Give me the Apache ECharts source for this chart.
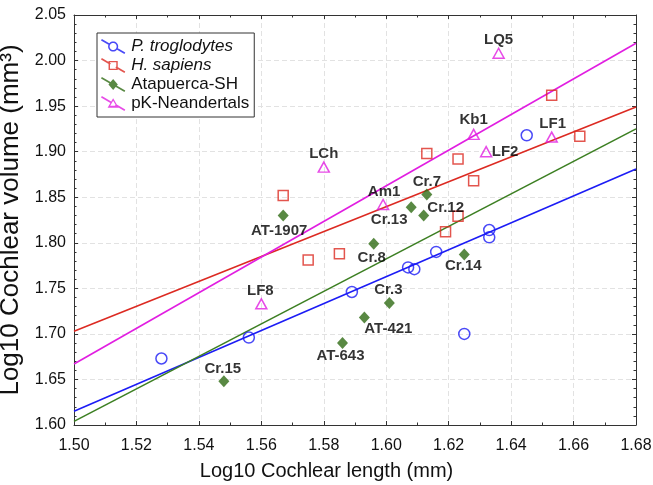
<!DOCTYPE html>
<html>
<head>
<meta charset="utf-8">
<script src="https://cdn.jsdelivr.net/npm/echarts@6/dist/echarts.min.js"></script>
<style>
  html, body { margin: 0; padding: 0; background: #fff; }
  #chart { width: 653px; height: 485px; }
</style>
</head>
<body>
<div id="chart"></div>
<script>
// Log10 cochlear length (x) against log10 cochlear volume (y), per group
const panX = [1.528, 1.556, 1.589, 1.607, 1.609, 1.616, 1.625, 1.633, 1.633, 1.645];
const panY = [1.673, 1.696, 1.746, 1.773, 1.771, 1.790, 1.700, 1.814, 1.806, 1.918];

const sapX = [1.567, 1.575, 1.585, 1.613, 1.619, 1.623, 1.623, 1.628, 1.653, 1.662];
const sapY = [1.852, 1.781, 1.788, 1.898, 1.812, 1.829, 1.892, 1.868, 1.962, 1.917];

const shNames = ['AT-1907', 'Cr.7', 'Cr.12', 'Cr.13', 'Cr.8', 'Cr.14', 'Cr.3', 'AT-421', 'AT-643', 'Cr.15'];
const shX = [1.567, 1.613, 1.612, 1.608, 1.596, 1.625, 1.601, 1.593, 1.586, 1.548];
const shY = [1.830, 1.853, 1.830, 1.839, 1.799, 1.787, 1.734, 1.718, 1.690, 1.648];

const neaNames = ['LQ5', 'Kb1', 'LF1', 'LF2', 'LCh', 'Am1', 'LF8'];
const neaX = [1.636, 1.628, 1.653, 1.632, 1.580, 1.599, 1.560];
const neaY = [2.008, 1.919, 1.916, 1.900, 1.883, 1.842, 1.733];

// Regression lines: fitted volume at both ends of the length range
const fitRange = [1.50, 1.68];
const panFit = [1.615, 1.881];
const sapFit = [1.703, 1.949];
const shFit = [1.604, 1.925];
const neaFit = [1.667, 2.019];

// Axis ranges and tick steps
const xRange = [1.50, 1.68];
const xStep = 0.02;
const yRange = [1.60, 2.05];
const yStep = 0.05;

const groupNames = ['P. troglodytes', 'H. sapiens', 'Atapuerca-SH', 'pK-Neandertals'];

// ---- styling ----
const FONT = 'Liberation Sans, Arial, Helvetica, sans-serif';
const COLORS = {
  pan: '#1c1cf5',
  sap: '#dc2a22',
  sh: '#2f6b14',
  shLine: '#3c7f22',
  nea: '#e11ee1'
};

// label placement (text centre relative to the marker centre, px)
const labelOffsets = {
  'LQ5': [0, -13], 'Kb1': [0, -14], 'LF1': [1, -13], 'LF2': [19, 0],
  'LCh': [0, -13], 'Am1': [1, -13], 'LF8': [-1, -13],
  'Cr.7': [0, -13], 'Cr.12': [22, -8], 'Cr.13': [-22, 13], 'Cr.8': [-2, 14],
  'Cr.14': [-1, 11], 'Cr.3': [-1, -13], 'AT-421': [24, 11], 'AT-643': [-2, 13],
  'AT-1907': [-4, 15], 'Cr.15': [-1, -12]
};

function points(xs, ys, names) {
  return xs.map((x, i) => {
    const item = { value: [x, ys[i]] };
    if (names) {
      item.name = names[i];
      item.label = { offset: labelOffsets[names[i]] || [0, -13] };
    }
    return item;
  });
}

function fitLine(ends) {
  return [[fitRange[0], ends[0]], [fitRange[1], ends[1]]];
}

// ---- legend icons: slanted line with the group's marker in the middle ----
const IW = 26, IH = 15;
function area(poly) {
  let s = 0;
  for (let i = 0; i < poly.length; i++) {
    const a = poly[i], b = poly[(i + 1) % poly.length];
    s += a[0] * b[1] - b[0] * a[1];
  }
  return s;
}
function orient(poly, sign) {
  return (area(poly) * sign < 0) ? poly.slice().reverse() : poly;
}
function toPath(poly) {
  return 'M' + poly.map(p => p[0].toFixed(3) + ' ' + p[1].toFixed(3)).join(' L') + ' Z ';
}
function circlePoly(cx, cy, r) {
  const out = [];
  for (let i = 0; i < 32; i++) {
    const a = i / 32 * Math.PI * 2;
    out.push([cx + r * Math.cos(a), cy + r * Math.sin(a)]);
  }
  return out;
}
function shapePoly(kind, cx, cy, r) {
  if (kind === 'circle') return circlePoly(cx, cy, r);
  if (kind === 'rect') return [[cx - r, cy - r], [cx + r, cy - r], [cx + r, cy + r], [cx - r, cy + r]];
  if (kind === 'triangle') return [[cx, cy - r * 1.05], [cx + r * 1.1, cy + r * 0.85], [cx - r * 1.1, cy + r * 0.85]];
  return [[cx, cy - r * 1.2], [cx + r, cy], [cx, cy + r * 1.2], [cx - r, cy]];
}
function legendIcon(kind, hollow, rOut, rIn) {
  const t = 0.95;
  const L = Math.hypot(IW, IH);
  const d = [IW / L, IH / L];
  const n = [-d[1] * t, d[0] * t];
  const c = [IW / 2, IH / 2];
  const seg = (p0, p1) => orient([
    [p0[0] + n[0], p0[1] + n[1]], [p1[0] + n[0], p1[1] + n[1]],
    [p1[0] - n[0], p1[1] - n[1]], [p0[0] - n[0], p0[1] - n[1]]
  ], 1);
  let path = '';
  if (hollow) {
    path += toPath(seg([0, 0], [c[0] - d[0] * rIn, c[1] - d[1] * rIn]));
    path += toPath(seg([c[0] + d[0] * rIn, c[1] + d[1] * rIn], [IW, IH]));
    path += toPath(orient(shapePoly(kind, c[0], c[1], rOut), 1));
    path += toPath(orient(shapePoly(kind, c[0], c[1], rIn), -1));
  } else {
    path += toPath(seg([0, 0], [IW, IH]));
    path += toPath(orient(shapePoly(kind, c[0], c[1], rOut), 1));
  }
  return 'path://' + path;
}

const labelStyle = {
  show: true,
  position: 'inside',
  formatter: '{b}',
  color: '#000',
  fontFamily: FONT,
  fontWeight: 'bold',
  fontSize: 15
};

function valueAxisBase(range, step, minorSplit) {
  return {
    type: 'value',
    min: range[0],
    max: range[1],
    interval: step,
    axisLine: { show: true, onZero: false, lineStyle: { color: '#333', width: 1 } },
    axisTick: { show: true, inside: true, length: 4, lineStyle: { color: '#333', width: 1 } },
    minorTick: { show: true, splitNumber: minorSplit, length: 2.5, lineStyle: { color: '#333', width: 1 } },
    splitLine: { show: false },
    minorSplitLine: { show: false }
  };
}

const chart = echarts.init(document.getElementById('chart'), null, { renderer: 'canvas' });

const option = {
  animation: false,
  backgroundColor: '#fff',
  textStyle: { fontFamily: FONT },
  grid: { left: 74, right: 17, top: 15, bottom: 60, containLabel: false, outerBoundsMode: 'none' },
  legend: {
    orient: 'vertical',
    left: 97,
    top: 33,
    padding: [5, 5, 5, 4],
    itemWidth: IW,
    itemHeight: IH,
    itemGap: 2,
    borderColor: '#333',
    borderWidth: 1,
    backgroundColor: '#fff',
    selectedMode: false,
    textStyle: { fontFamily: FONT, fontSize: 17, color: '#111' },
    data: [
      { name: groupNames[0], icon: legendIcon('circle', true, 5.6, 3.9),
        itemStyle: { color: COLORS.pan, borderWidth: 0 }, textStyle: { fontStyle: 'italic' } },
      { name: groupNames[1], icon: legendIcon('rect', true, 5.1, 3.5),
        itemStyle: { color: COLORS.sap, borderWidth: 0 }, textStyle: { fontStyle: 'italic' } },
      { name: groupNames[2], icon: legendIcon('diamond', false, 5.2, 0),
        itemStyle: { color: COLORS.sh, borderWidth: 0 } },
      { name: groupNames[3], icon: legendIcon('triangle', true, 5.6, 3.0),
        itemStyle: { color: COLORS.nea, borderWidth: 0 } }
    ]
  },
  xAxis: [
    Object.assign(valueAxisBase(xRange, xStep, 2), {
      position: 'bottom',
      axisLabel: {
        margin: 13, fontSize: 16, color: '#111', fontFamily: FONT,
        showMinLabel: true, showMaxLabel: true,
        formatter: v => v.toFixed(2)
      },
      splitLine: { show: true, lineStyle: { color: '#e2e2e2', width: 1, type: [5, 3] } },
      name: 'Log10 Cochlear length (mm)',
      nameLocation: 'middle',
      nameGap: 36,
      nameTextStyle: { fontSize: 20, color: '#111', fontFamily: FONT, padding: [0, 57, 0, 0] }
    }),
    Object.assign(valueAxisBase(xRange, xStep, 2), {
      position: 'top',
      axisLabel: { show: false }
    })
  ],
  yAxis: [
    Object.assign(valueAxisBase(yRange, yStep, 5), {
      position: 'left',
      axisLabel: {
        margin: 8, fontSize: 16, color: '#111', fontFamily: FONT,
        showMinLabel: true, showMaxLabel: true,
        formatter: v => v.toFixed(2)
      },
      splitLine: { show: true, lineStyle: { color: '#e2e2e2', width: 1, type: [5, 3] } },
      name: 'Log10 Cochlear volume (mm³)',
      nameLocation: 'middle',
      nameGap: 38,
      nameTextStyle: { fontSize: 26, color: '#111', fontFamily: FONT }
    }),
    Object.assign(valueAxisBase(yRange, yStep, 5), {
      position: 'right',
      axisLabel: { show: false }
    })
  ],
  series: [
    { type: 'line', name: 'P. troglodytes fit', data: fitLine(panFit), symbol: 'none', silent: true,
      lineStyle: { color: COLORS.pan, width: 1.6 }, z: 2 },
    { type: 'line', name: 'H. sapiens fit', data: fitLine(sapFit), symbol: 'none', silent: true,
      lineStyle: { color: COLORS.sap, width: 1.6 }, z: 2 },
    { type: 'line', name: 'Atapuerca-SH fit', data: fitLine(shFit), symbol: 'none', silent: true,
      lineStyle: { color: COLORS.shLine, width: 1.6 }, z: 2 },
    { type: 'line', name: 'pK-Neandertals fit', data: fitLine(neaFit), symbol: 'none', silent: true,
      lineStyle: { color: COLORS.nea, width: 1.6 }, z: 2 },

    { type: 'scatter', name: groupNames[0], data: points(panX, panY), symbol: 'circle', symbolSize: 11,
      itemStyle: { color: 'rgba(255,255,255,0)', borderColor: COLORS.pan, borderWidth: 1.5 }, z: 4 },
    { type: 'scatter', name: groupNames[1], data: points(sapX, sapY), symbol: 'rect', symbolSize: 10,
      itemStyle: { color: 'rgba(255,255,255,0)', borderColor: COLORS.sap, borderWidth: 1.5 }, z: 4 },
    { type: 'scatter', name: groupNames[2], data: points(shX, shY, shNames), symbol: 'diamond', symbolSize: [11, 12],
      itemStyle: { color: COLORS.sh, borderWidth: 0 }, label: labelStyle, z: 5 },
    { type: 'scatter', name: groupNames[3], data: points(neaX, neaY, neaNames), symbol: 'triangle', symbolSize: [11, 10],
      itemStyle: { color: 'rgba(255,255,255,0)', borderColor: COLORS.nea, borderWidth: 1.5 }, label: labelStyle, z: 5 }
  ]
};

chart.setOption(option);
</script>
</body>
</html>
